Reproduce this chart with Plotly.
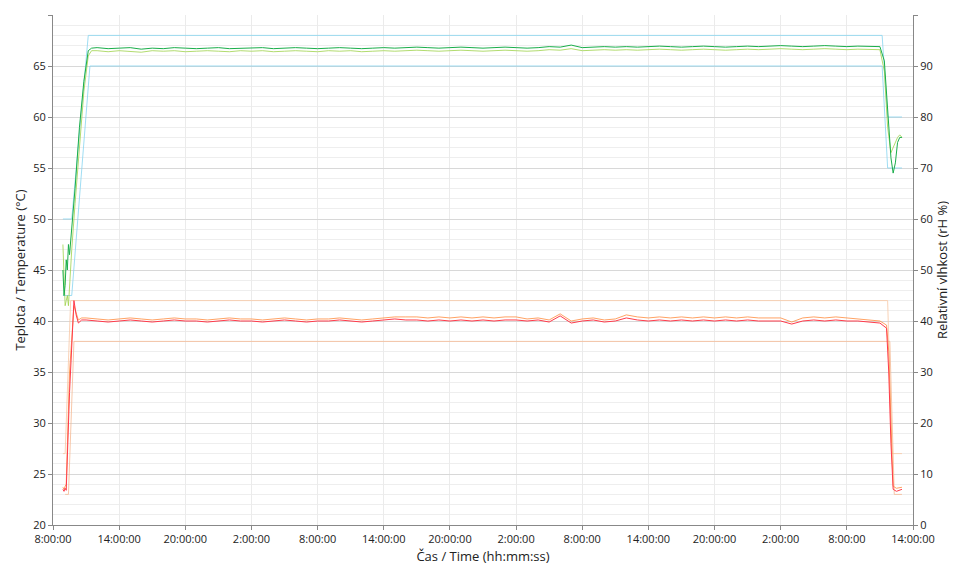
import plotly.graph_objects as go

# x = hours since 8:00:00 of day 1
tick_hours = [0, 6, 12, 18, 24, 30, 36, 42, 48, 54, 60, 66, 72, 78]
tick_labels = ["8:00:00", "14:00:00", "20:00:00", "2:00:00", "8:00:00", "14:00:00", "20:00:00",
               "2:00:00", "8:00:00", "14:00:00", "20:00:00", "2:00:00", "8:00:00", "14:00:00"]

plateau_t_hours = list(range(3, 76))
temp_start_t = [0.9, 1.0, 1.1, 1.2, 1.5, 1.9, 2.1, 2.3, 2.6]
temp_start_red = [23.5, 23.3, 23.6, 23.4, 33.0, 42.0, 40.6, 39.8, 40.1]
temp_start_orange = [23.7, 23.5, 23.8, 24.0, 35.0, 41.5, 40.8, 40.1, 40.3]
temp_red_plateau = [40.1, 40.0, 39.9, 40.0, 40.1, 40.0, 39.9, 40.0, 40.1, 40.0,
                    40.0, 39.9, 40.0, 40.1, 40.0, 40.0, 39.9, 40.0, 40.1, 40.0,
                    39.9, 40.0, 40.0, 40.1, 40.0, 39.9, 40.0, 40.1, 40.2, 40.1,
                    40.1, 40.0, 40.1, 40.0, 40.1, 40.0, 40.1, 40.0, 40.1, 40.1,
                    40.0, 40.1, 39.9, 40.5, 39.8, 40.0, 40.1, 39.9, 40.0, 40.3,
                    40.1, 40.0, 40.1, 40.0, 40.1, 40.0, 40.1, 40.0, 40.1, 40.0,
                    40.1, 40.0, 40.0, 40.0, 39.7, 40.0, 40.1, 40.0, 40.1, 40.0,
                    40.0, 39.9, 39.8]
temp_orange_plateau = [40.3, 40.2, 40.1, 40.2, 40.3, 40.2, 40.1, 40.2, 40.3, 40.2,
                       40.2, 40.1, 40.2, 40.3, 40.2, 40.2, 40.1, 40.2, 40.3, 40.2,
                       40.1, 40.2, 40.2, 40.3, 40.2, 40.1, 40.2, 40.3, 40.4, 40.4,
                       40.4, 40.3, 40.4, 40.3, 40.4, 40.3, 40.4, 40.3, 40.4, 40.4,
                       40.2, 40.3, 40.1, 40.7, 40.0, 40.2, 40.3, 40.1, 40.2, 40.6,
                       40.4, 40.3, 40.4, 40.3, 40.4, 40.3, 40.4, 40.3, 40.4, 40.3,
                       40.4, 40.3, 40.3, 40.3, 39.9, 40.3, 40.4, 40.3, 40.4, 40.3,
                       40.2, 40.1, 40.0]
temp_end_t = [75.6, 75.8, 76.0, 76.2, 76.5, 77.0]
temp_end_red = [39.3, 35.0, 28.0, 23.5, 23.3, 23.5]
temp_end_orange = [39.6, 37.0, 30.0, 23.8, 23.6, 23.7]

temp_lim_t = [0.9, 1.1, 1.6, 75.7, 76.1, 77.0]
temp_lim_hi = [27, 27, 42, 42, 27, 27]
temp_lim_lo_t = [1.1, 1.4, 1.9, 75.9, 76.3, 77.0]
temp_lim_lo = [23, 23, 38, 38, 23, 23]

plateau_h_hours = list(range(4, 76))
hum_start_t = [0.9, 1.0, 1.1, 1.2, 1.3, 1.4, 1.5, 1.7, 2.0, 2.4, 2.8, 3.2, 3.5]
hum_start_dark = [50.0, 45.0, 47.0, 52.0, 50.0, 55.0, 53.0, 58.0, 66.0, 78.0, 87.0, 93.0, 93.5]
hum_start_light = [55.0, 47.0, 43.0, 44.0, 45.0, 43.0, 47.0, 54.0, 63.0, 75.0, 85.0, 92.0, 93.0]
hum_dark_plateau = [93.6, 93.4, 93.5, 93.6, 93.3, 93.5, 93.4, 93.6, 93.5, 93.4,
                    93.5, 93.6, 93.4, 93.5, 93.5, 93.6, 93.4, 93.5, 93.6, 93.5,
                    93.4, 93.5, 93.6, 93.5, 93.4, 93.5, 93.6, 93.5, 93.6, 93.7,
                    93.6, 93.5, 93.6, 93.7, 93.6, 93.5, 93.6, 93.7, 93.6, 93.5,
                    93.6, 93.8, 93.7, 94.1, 93.6, 93.7, 93.8, 93.7, 93.8, 93.7,
                    93.8, 93.9, 93.8, 93.7, 93.8, 93.9, 93.8, 93.7, 93.8, 93.9,
                    93.8, 93.9, 94.0, 93.9, 93.8, 93.9, 94.0, 93.9, 93.8, 93.9,
                    93.9, 93.8]
hum_light_plateau = [93.0, 92.8, 93.0, 92.9, 92.7, 93.0, 92.9, 93.0, 92.8, 92.9,
                     93.0, 92.9, 92.8, 93.0, 92.9, 93.0, 92.8, 92.9, 93.0, 92.9,
                     92.8, 93.0, 92.9, 93.0, 92.8, 92.9, 93.0, 92.9, 93.0, 93.1,
                     93.0, 92.9, 93.0, 93.1, 93.0, 92.9, 93.0, 93.1, 93.0, 92.9,
                     93.0, 93.2, 93.1, 93.4, 93.0, 93.1, 93.2, 93.1, 93.2, 93.1,
                     93.2, 93.3, 93.2, 93.1, 93.2, 93.3, 93.2, 93.1, 93.2, 93.3,
                     93.2, 93.3, 93.4, 93.3, 93.2, 93.3, 93.4, 93.3, 93.2, 93.3,
                     93.3, 93.2]
hum_end_t = [75.4, 75.7, 76.0, 76.2, 76.4, 76.6, 76.8, 77.0]
hum_end_dark = [91.0, 82.0, 72.0, 69.0, 71.0, 75.0, 76.0, 76.0]
hum_end_light = [89.0, 78.0, 73.0, 74.0, 75.0, 76.0, 76.5, 76.0]

hum_lim_t = [0.9, 1.7, 3.2, 75.2, 75.7, 77.0]
hum_lim_hi = [60, 60, 96, 96, 80, 80]
hum_lim_lo_t = [0.9, 1.7, 3.35, 75.2, 75.7, 77.0]
hum_lim_lo = [45, 45, 90, 90, 70, 70]

fig = go.Figure()
def add(x, y, color, width=0.8, yaxis="y"):
    fig.add_trace(go.Scatter(x=x, y=y, mode="lines", line=dict(color=color, width=width),
                             yaxis=yaxis, showlegend=False, hoverinfo="skip"))

add(temp_lim_t, temp_lim_hi, "#f7c7a3")
add(temp_lim_lo_t, temp_lim_lo, "#f5b993")
add(hum_lim_t, hum_lim_hi, "#86d4f0", yaxis="y2")
add(hum_lim_lo_t, hum_lim_lo, "#86d4f0", yaxis="y2")
add(temp_start_t + plateau_t_hours + temp_end_t,
    temp_start_orange + temp_orange_plateau + temp_end_orange, "#ff8a3c")
add(temp_start_t + plateau_t_hours + temp_end_t,
    temp_start_red + temp_red_plateau + temp_end_red, "#ff3a4a", 1.0)
add(hum_start_t + plateau_h_hours + hum_end_t,
    hum_start_light + hum_light_plateau + hum_end_light, "#9ed24a", yaxis="y2")
add(hum_start_t + plateau_h_hours + hum_end_t,
    hum_start_dark + hum_dark_plateau + hum_end_dark, "#1aae4a", 1.0, yaxis="y2")

font = dict(family="Open Sans, Liberation Sans, sans-serif", size=11, color="#222")
fig.update_layout(
    width=957, height=563, margin=dict(l=45, r=52, t=7, b=46),
    plot_bgcolor="white", paper_bgcolor="white", font=font,
    xaxis=dict(range=[0, 78], tickvals=tick_hours, ticktext=tick_labels, automargin=False,
               showgrid=True, gridcolor="#ebebeb", zeroline=False,
               showline=True, linecolor="#888", ticks="outside", ticklen=4, tickcolor="#888",
               title=dict(text="Čas / Time (hh:mm:ss)", standoff=6)),
    yaxis=dict(range=[20, 70], dtick=5, showgrid=True, gridcolor="#d8d8d8", automargin=False,
               minor=dict(dtick=1, showgrid=True, gridcolor="#eeeeee"),
               zeroline=False, showline=True, linecolor="#888", ticks="outside",
               ticklen=4, tickcolor="#888",
               title=dict(text="Teplota / Temperature (°C)", standoff=4)),
    yaxis2=dict(range=[0, 100], dtick=10, overlaying="y", side="right", showgrid=False,
                automargin=False,
                zeroline=False, showline=True, linecolor="#888", ticks="outside",
                ticklen=4, tickcolor="#888",
                title=dict(text="Relativní vlhkost (rH %)", standoff=4)),
)
fig.write_html("out.html")
